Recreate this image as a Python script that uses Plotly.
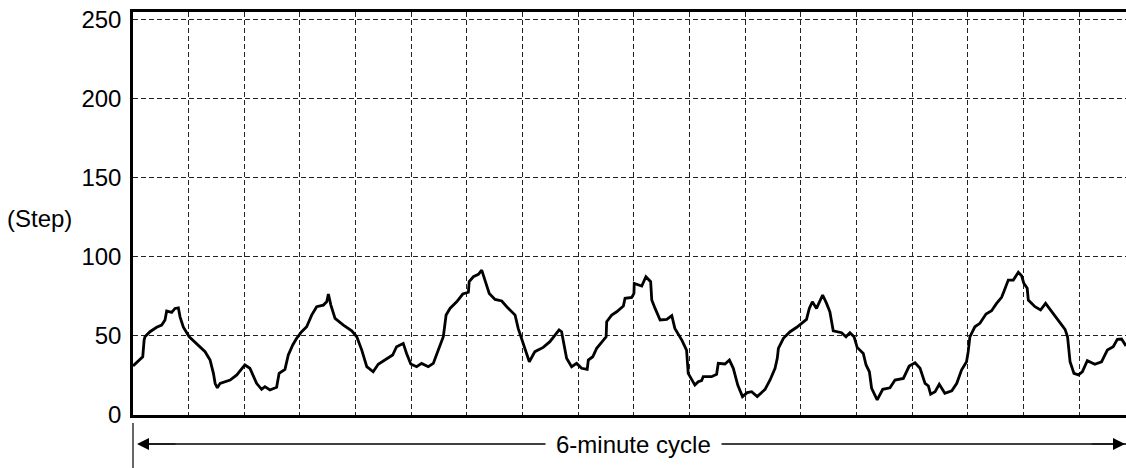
import plotly.graph_objects as go

# time in seconds (grid every 20 s, 6-minute cycle), steps
t_sec = [0, 2.5, 3.5, 4.0, 4.3, 6.1, 8.5, 10.3, 11.5, 12.1, 13.9, 15.1, 16.3, 16.9, 18.1,
         20.2, 22.9, 25.9, 27.7, 28.9, 29.5, 30.3, 31.3, 34.9, 37.3, 40.2, 42.0, 43.2, 44.4,
         46.2, 47.4, 49.2, 51.6, 52.5, 54.6, 55.8, 57.4, 58.8, 60.6, 62.4, 64.2, 66.0, 68.4,
         69.6, 70.2, 71.1, 72.6, 75.6, 78.6, 80.4, 82.2, 84.0,
         86.3, 88.1, 90.5, 93.3, 94.7, 97.1, 98.3, 99.8, 101.9, 103.7, 106.1, 107.9, 109.7,
         111.5, 112.5, 113.9, 116.3, 118.5, 120.5, 120.8, 122.3, 124.1, 125.3, 126.5, 128.0,
         130.1, 132.5, 134.3, 137.3, 138.4, 140.8, 142.4, 144.4, 147.4, 149.8, 153.1, 154.0,
         155.8, 157.6, 159.4, 161.2, 163.2, 163.6, 165.2, 166.6, 169.0, 170.0, 170.2,
         172.0, 173.8, 176.2, 176.8, 179.2, 180.0, 180.1, 182.8, 184.3, 186.0, 186.4, 187.6,
         189.4, 191.8, 193.6, 194.7, 197.2, 198.9, 199.5, 201.9, 203.1, 204.3, 204.9, 207.9,
         209.7, 210.3, 212.7, 214.3, 215.7, 217.3, 219.0, 220.7, 222.3, 224.3, 227.1, 228.9,
         230.7, 231.5, 231.9, 233.7, 236.1, 238.5, 240.8, 242.0, 243.0, 244.1, 245.6, 247.8,
         249.2, 250.4, 251.6, 254.6, 256.2, 257.6,
         259.1, 260.2, 262.4, 263.4, 264.6, 265.4, 267.4, 269.4, 272.0, 273.8, 276.8, 278.9,
         281.0, 282.8, 284.6, 285.8, 286.6, 288.2, 289.7, 291.7, 294.2, 296.0, 297.7, 299.5,
         300.1, 300.7, 302.5, 304.3, 306.5, 308.5, 310.3, 312.1, 312.9, 314.5, 316.3, 318.1,
         319.3, 320.1, 321.3, 321.7, 324.1, 326.1, 327.9, 330.1, 332.5, 334.9, 335.8, 336.7,
         338.1, 339.7, 341.1, 342.9, 345.6, 348.0, 350.1, 352.2, 353.7, 355.2, 356.8]

steps = [31, 34.7, 36.8, 47.3, 49.4, 52.6, 55.4, 56.8, 60, 65.7, 64.8, 67.3, 67.7, 62, 55.4,
         49.4, 45.2, 40, 34.7, 26.3, 20, 17.2, 20, 22.1, 25.3, 31.6, 29.5, 24.2, 20,
         16.2, 17.9, 15.8, 17.5, 26.3, 28.8, 37.9, 44.2, 48.4, 52.6, 55.7, 63.1, 68.4, 69.4,
         71.5, 76.4, 69.4, 61, 56.8, 53.2, 49.4, 41, 30.5,
         27.3, 32, 34.7, 37.9, 43.1, 45.2, 38.9, 32.2, 30.5, 32.6, 30.5, 32.6, 41,
         49.4, 63.1, 67.3, 71.5, 76.4, 77.5, 84.2, 87.3, 88.8, 91.5, 85.2, 76.8,
         73, 72, 68.4, 63.1, 54.7, 42.1, 33.6, 40, 42.7, 46.3, 53.7, 52.6,
         35.8, 30.5, 32.6, 29.5, 28.8, 34.7, 36.8, 42.1, 47.3, 49.4, 58.9,
         63.1, 65.2, 68.8, 73.7, 74.3, 76.8, 83.1, 81.4, 87.3, 84.2, 72.6, 67.3,
         60, 60.4, 62.7, 54.7, 47.3, 41, 26.3, 18.9, 21, 21.7, 24.2, 24.2,
         25.7, 32.6, 32.2, 34.7, 29.5, 18.9, 11.6, 14.1, 14.7, 11.6, 16.2, 22.1,
         29.5, 35.8, 42.1, 48.4, 52.6, 55.4, 58.9, 60.4, 67.3, 71.5, 67.3, 75.8,
         70.5, 65.2, 53.2, 52, 49.4, 52,
         49.4, 42.7, 38.9, 31.6, 27.3, 16.8, 9.5, 16.2, 17.2, 22.1, 23.1, 30.9,
         33, 29.5, 20, 18.3, 13.1, 14.7, 19.4, 13.7, 15.3, 20, 28.4, 33.6,
         40, 49.4, 55.7, 57.9, 63.8, 65.8, 70.5, 74.3, 77.8, 85.2, 85.2, 90.1,
         87.9, 83.1, 80, 72.6, 68.4, 66.3, 70.5, 65.2, 60, 54.1, 49.4, 33.6,
         26.3, 25.3, 27.3, 34.3, 32, 33.6, 41, 43.1, 47.8, 48, 43.6]

y_ticks = [0, 50, 100, 150, 200, 250]

FONT = "Liberation Sans, Arial, Helvetica, sans-serif"

fig = go.Figure()
fig.add_trace(go.Scatter(
    x=t_sec, y=steps, mode="lines",
    line=dict(color="black", width=2.8),
    showlegend=False, hoverinfo="skip"
))

fig.update_layout(
    width=1126, height=468,
    margin=dict(l=133, r=0, t=12, b=53),
    paper_bgcolor="white", plot_bgcolor="white",
    font=dict(family=FONT, size=24, color="black"),
    xaxis=dict(
        range=[0, 356.8], dtick=20, tick0=0, showticklabels=False,
        showgrid=True, gridcolor="#222", gridwidth=1, griddash="5px,3px",
        showline=True, linecolor="black", linewidth=2.5, mirror=True,
        zeroline=False, ticks=""
    ),
    yaxis=dict(
        range=[0, 254.5], tickvals=y_ticks, ticks="", ticklabelstandoff=4,
        showgrid=True, gridcolor="#222", gridwidth=1, griddash="5px,3px",
        showline=True, linecolor="black", linewidth=2.5,
        zeroline=False, tickfont=dict(size=24, color="black")
    ),
)

# y-axis unit label
fig.add_annotation(x=-0.094, y=0.488, xref="paper", yref="paper", text="(Step)",
                   showarrow=False, xanchor="center", yanchor="middle",
                   font=dict(size=24))

# small vertical marker below the origin
fig.add_shape(type="line", xref="paper", yref="paper", x0=0, x1=0,
              y0=-0.0199, y1=-0.135, line=dict(color="black", width=1.2))

# double-headed cycle arrow
arrow_y = -0.072
fig.add_shape(type="line", xref="paper", yref="paper", x0=0.006, x1=1.0,
              y0=arrow_y, y1=arrow_y, line=dict(color="black", width=1.3))
fig.add_annotation(x=0.004, y=arrow_y, xref="paper", yref="paper", ax=40, ay=0,
                   text="", showarrow=True, arrowhead=2, arrowsize=2,
                   arrowwidth=1.2, arrowcolor="black")
fig.add_annotation(x=1.004, y=arrow_y, xref="paper", yref="paper", ax=-40, ay=0,
                   text="", showarrow=True, arrowhead=2, arrowsize=2,
                   arrowwidth=1.2, arrowcolor="black")
fig.add_annotation(x=0.5045, y=arrow_y, xref="paper", yref="paper", text="6-minute cycle",
                   showarrow=False, bgcolor="white", borderpad=10,
                   xanchor="center", yanchor="middle", font=dict(size=24))

# drop the default 8px page margin so the 1126x468 figure fills the window exactly
fig.write_html("out.html", config={"displayModeBar": False},
               post_script="document.body.style.margin='0';document.body.style.overflow='hidden';")
